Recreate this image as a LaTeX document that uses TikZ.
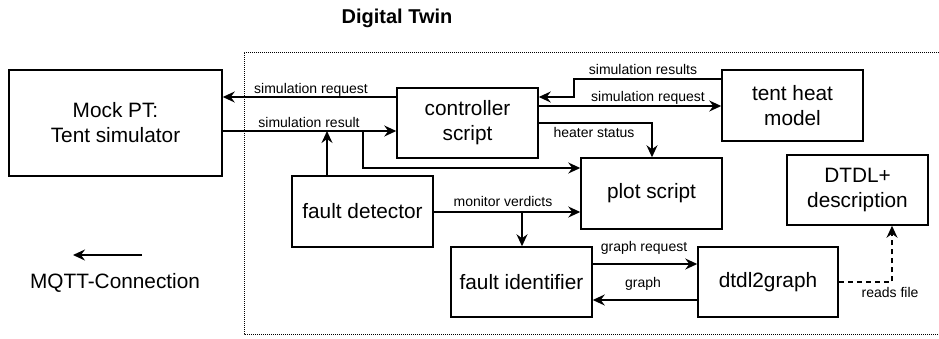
\documentclass[tikz,border=0pt]{standalone}
\usepackage{fontspec}
\setmainfont{Liberation Sans}
\usetikzlibrary{arrows.meta}
\begin{document}
\begin{tikzpicture}[x=1pt,y=-1pt,
  box/.style={draw, line width=1.5pt, align=center, font=\fontsize{20.8}{25}\selectfont, inner sep=0pt},
  stdbox/.style={box, minimum width=141pt, minimum height=70pt},
  lbl/.style={font=\fontsize{14}{16}\selectfont, inner sep=0pt, anchor=base},
  arr/.style={line width=1.5pt, -{Stealth[length=12pt,width=11pt,inset=4pt]}},
  frame/.style={line width=1pt, dash pattern=on 1pt off 1pt},
]
\useasboundingbox (0,0) rectangle (939,338);

% frame of the digital twin
\draw[frame] (939,52) -- (244,52) -- (244,334) -- (939,334);
\node[font=\bfseries\fontsize{20}{24}\selectfont, anchor=base, inner sep=0pt] (title) at (397,23) {Digital Twin};

% boxes
\node[box, minimum width=213pt, minimum height=106pt] (mock) at (115.5,123) {Mock PT:\\Tent simulator};
\node[stdbox] (ctrl) at (467.5,123) {controller\\script};
\node[stdbox, minimum height=71pt] (tent) at (792.5,105.5) {tent heat\\model};
\node[stdbox, minimum height=71pt] (plot) at (651.5,193.5) {plot script};
\node[stdbox] (dtdl) at (857.5,190) {DTDL+\\description};
\node[stdbox, minimum height=71pt] (fdet) at (362.5,211.5) {fault detector};
\node[stdbox] (fid) at (521.5,282) {fault identifier};
\node[stdbox, minimum width=140pt] (d2g) at (768,282) {dtdl2graph};

% connectors
\draw[arr] (ctrl.west |- 0,97) -- (mock.east |- 0,97);
\draw[arr] (mock.east |- 0,131) -- (ctrl.west |- 0,131);
\coordinate (sr) at (363,131);
\draw[arr] (sr) -- (363,168) -- (plot.west |- 0,168);
\coordinate (jn) at (327,131);
\draw[arr] (fdet.north -| jn) -- (jn);
\draw[arr] (tent.west |- 0,79) -- (574,79) -- (574,97) -- (ctrl.east |- 0,97);
\draw[arr] (ctrl.east |- 0,106) -- (tent.west |- 0,106);
\draw[arr] (ctrl.east |- 0,123) -- (652,123) -- (plot.north -| 652,0);
\draw[arr] (fdet.east |- 0,212) -- (plot.west |- 0,212);
\coordinate (mv) at (522,212);
\draw[arr] (mv) -- (fid.north -| mv);
\draw[arr] (fid.east |- 0,264) -- (d2g.west |- 0,264);
\draw[arr] (d2g.west |- 0,300) -- (fid.east |- 0,300);
\draw[arr, dash pattern=on 5pt off 4pt] (d2g.east |- 0,282) -- (892,282) -- (dtdl.south -| 892,0);

% labels
\node[lbl] (l1) at (311,93) {simulation request};
\node[lbl] (l2) at (309,127) {simulation result};
\node[lbl] (l3) at (643,74) {simulation results};
\node[lbl] (l4) at (648,101) {simulation request};
\node[lbl] (l5) at (594,137) {heater status};
\node[lbl] (l6) at (503,206) {monitor verdicts};
\node[lbl] (l7) at (644,251) {graph request};
\node[lbl] (l8) at (643,287) {graph};
\node[lbl] (l9) at (890,297) {reads file};

% legend
\coordinate (lgA) at (142,255);
\coordinate (lgB) at (73,255);
\draw[arr] (lgA) -- (lgB);
\node[font=\fontsize{20.8}{25}\selectfont, anchor=base, inner sep=0pt] (lgT) at (115,288) {MQTT-Connection};
\end{tikzpicture}
\end{document}
